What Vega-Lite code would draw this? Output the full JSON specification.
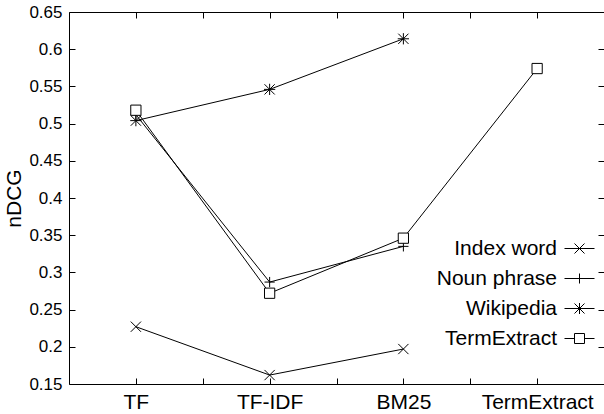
{
  "$schema": "https://vega.github.io/schema/vega-lite/v6.json",
  "width": 535,
  "height": 372,
  "autosize": {"type": "none"},
  "padding": {"left": 69, "top": 12, "right": 0, "bottom": 30},
  "background": "white",
  "config": {
    "font": "Liberation Sans",
    "view": {"stroke": "black", "strokeWidth": 1},
    "axis": {"domain": false, "grid": false, "tickColor": "black", "tickSize": -6, "tickWidth": 1, "labelColor": "black", "titleColor": "black", "titleFontWeight": "normal"}
  },
  "data": {
    "values": [
      {"series": "Index word", "method": "TF", "ndcg": 0.227},
      {"series": "Index word", "method": "TF-IDF", "ndcg": 0.162},
      {"series": "Index word", "method": "BM25", "ndcg": 0.197},
      {"series": "Noun phrase", "method": "TF", "ndcg": 0.512},
      {"series": "Noun phrase", "method": "TF-IDF", "ndcg": 0.287},
      {"series": "Noun phrase", "method": "BM25", "ndcg": 0.335},
      {"series": "Wikipedia", "method": "TF", "ndcg": 0.504},
      {"series": "Wikipedia", "method": "TF-IDF", "ndcg": 0.546},
      {"series": "Wikipedia", "method": "BM25", "ndcg": 0.614},
      {"series": "TermExtract", "method": "TF", "ndcg": 0.518},
      {"series": "TermExtract", "method": "TF-IDF", "ndcg": 0.272},
      {"series": "TermExtract", "method": "BM25", "ndcg": 0.346},
      {"series": "TermExtract", "method": "TermExtract", "ndcg": 0.574}
    ]
  },
  "layer": [
    {
      "mark": {"type": "line", "color": "black", "strokeWidth": 1},
      "encoding": {
        "x": {
          "field": "method", "type": "nominal",
          "scale": {"type": "point", "domain": ["TF", "_1", "TF-IDF", "_2", "BM25", "_3", "TermExtract"], "padding": 1},
          "axis": {"orient": "bottom", "title": null, "labelAngle": 0, "labelFontSize": 21, "labelPadding": 13, "labelExpr": "substring(datum.value, 0, 1) == '_' ? '' : datum.value"}
        },
        "y": {
          "field": "ndcg", "type": "quantitative",
          "scale": {"domain": [0.15, 0.65], "nice": false, "zero": false},
          "axis": {"orient": "left", "values": [0.15, 0.2, 0.25, 0.3, 0.35, 0.4, 0.45, 0.5, 0.55, 0.6, 0.65], "format": "~g", "title": "nDCG", "labelFontSize": 17, "labelPadding": 13, "titleFontSize": 21, "titlePadding": 4}
        },
        "detail": {"field": "series"},
        "order": {"value": null}
      }
    },
    {
      "mark": {"type": "point", "filled": true, "fill": "white", "stroke": "black", "strokeWidth": 1, "opacity": 1, "fillOpacity": 1, "size": 105},
      "encoding": {
        "x": {
          "field": "method", "type": "nominal",
          "axis": {"orient": "top", "title": null, "labels": false}
        },
        "y": {
          "field": "ndcg", "type": "quantitative",
          "axis": {"orient": "right", "title": null, "labels": false, "values": [0.15, 0.2, 0.25, 0.3, 0.35, 0.4, 0.45, 0.5, 0.55, 0.6, 0.65]}
        },
        "shape": {
          "field": "series", "type": "nominal",
          "scale": {
            "domain": ["Index word", "Noun phrase", "Wikipedia", "TermExtract"],
            "range": ["M-1,-1L1,1M-1,1L1,-1", "M-1,0L1,0M0,-1L0,1", "M-1,-1L1,1M-1,1L1,-1M0,-1.1L0,1.1M-1.1,0L1.1,0", "M-1,-1L1,-1L1,1L-1,1Z"]
          },
          "legend": null
        }
      }
    },
    {
      "mark": {"type": "point", "filled": false, "color": "black", "strokeWidth": 1, "opacity": 0, "size": 100},
      "encoding": {
        "x": {"field": "method", "type": "nominal", "axis": null},
        "y": {"field": "ndcg", "type": "quantitative", "axis": null},
        "shape": {
          "field": "series", "type": "nominal",
          "scale": {
            "domain": ["Index word", "Noun phrase", "Wikipedia", "TermExtract"],
            "range": ["M-3,0L3,0M-1,-1L1,1M-1,1L1,-1", "M-3,0L3,0M0,-1L0,1", "M-3,0L3,0M-1,-1L1,1M-1,1L1,-1M0,-1.1L0,1.1", "M-3,0L-1,0M1,0L3,0M-1,-1L1,-1L1,1L-1,1Z"]
          },
          "legend": {
            "orient": "none", "legendX": 500, "legendY": 226, "title": null,
            "labelAlign": "right", "labelOffset": -33, "labelFontSize": 21, "labelColor": "black",
            "symbolSize": 100, "symbolStrokeColor": "black", "symbolStrokeWidth": 1, "symbolOpacity": 1,
            "rowPadding": 8
          }
        }
      }
    }
  ],
  "resolve": {"axis": {"x": "independent", "y": "independent"}, "scale": {"shape": "independent"}}
}
